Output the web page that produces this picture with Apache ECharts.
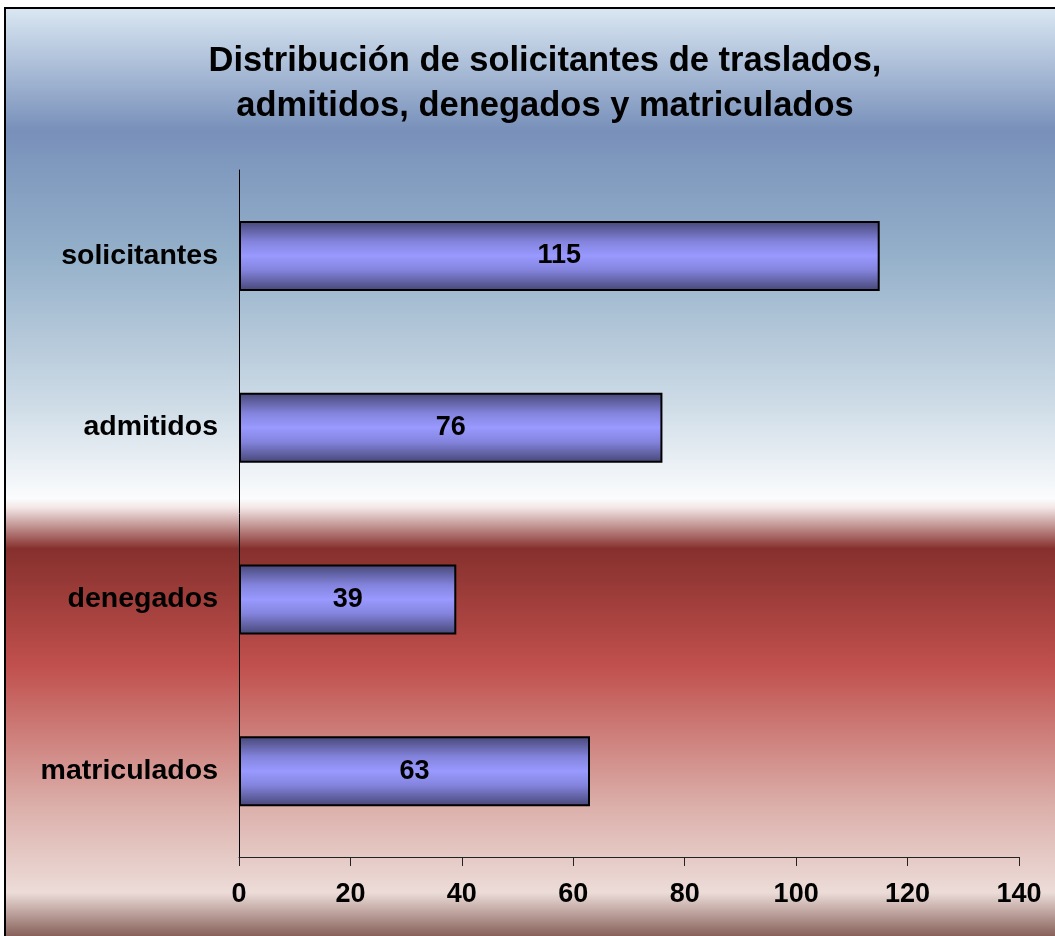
<!DOCTYPE html>
<html>
<head>
<meta charset="utf-8">
<script src="https://cdn.jsdelivr.net/npm/echarts@6/dist/echarts.min.js"></script>
<style>
  html, body { margin: 0; padding: 0; background: #fff; }
  #main { width: 1055px; height: 936px; }
</style>
</head>
<body>
<div id="main"></div>
<script>
// datos del gráfico
const categories = ["solicitantes", "admitidos", "denegados", "matriculados"];
const values = [115, 76, 39, 63];
const axisMax = 140;
const axisStep = 20;

const chart = echarts.init(document.getElementById("main"));

const font = '"Liberation Sans", Arial, sans-serif';

const option = {
  backgroundColor: "#ffffff",
  animation: false,
  title: {
    text: "Distribución de solicitantes de traslados,\nadmitidos, denegados y matriculados",
    left: 540,
    top: 34,
    textAlign: "center",
    textStyle: {
      fontFamily: font,
      fontWeight: "bold",
      fontSize: 34.5,
      lineHeight: 45,
      color: "#000",
    },
  },
  // fondo degradado tipo Excel
  graphic: [
    {
      type: "rect",
      z: -10,
      silent: true,
      shape: { x: 5, y: 8, width: 1060, height: 940 },
      style: {
        fill: {
          type: "linear",
          x: 0, y: 0, x2: 0, y2: 1,
          colorStops: [
            { offset: 0, color: "#dbe8f3" },
            { offset: 0.131, color: "#7890ba" },
            { offset: 0.26, color: "#93afc9" },
            { offset: 0.42, color: "#cddbe6" },
            { offset: 0.522, color: "#fbfcfd" },
            { offset: 0.531, color: "#f3e8e7" },
            { offset: 0.575, color: "#86302d" },
            { offset: 0.7, color: "#c0504d" },
            { offset: 0.85, color: "#dcb0ab" },
            { offset: 0.94, color: "#ecdcd8" },
            { offset: 1, color: "#6a3c35" },
          ],
        },
        stroke: "#000",
        lineWidth: 2,
      },
    },
  ],
  grid: {
    left: 239,
    right: 36,
    top: 170,
    bottom: 79,
  },
  xAxis: {
    type: "value",
    min: 0,
    max: axisMax,
    interval: axisStep,
    splitLine: { show: false },
    axisLine: { show: true, lineStyle: { color: "#222", width: 1 } },
    axisTick: { show: true, length: 9, lineStyle: { color: "#222" } },
    axisLabel: {
      margin: 24,
      fontFamily: font,
      fontWeight: "bold",
      fontSize: 27,
      color: "#000",
    },
  },
  yAxis: {
    type: "category",
    data: categories,
    inverse: true,
    axisLine: { show: true, lineStyle: { color: "#000", width: 1 } },
    axisTick: { show: false },
    axisLabel: {
      margin: 21,
      fontFamily: font,
      fontWeight: "bold",
      fontSize: 28.5,
      color: "#000",
    },
  },
  series: [
    {
      type: "bar",
      data: values,
      barWidth: 70,
      itemStyle: {
        borderColor: "#000",
        borderWidth: 2,
        color: {
          type: "linear",
          x: 0, y: 0, x2: 0, y2: 1,
          colorStops: [
            { offset: 0, color: "#464676" },
            { offset: 0.3, color: "#8484de" },
            { offset: 0.5, color: "#9999ff" },
            { offset: 0.7, color: "#8484de" },
            { offset: 1, color: "#464676" },
          ],
        },
      },
      label: {
        show: true,
        position: "inside",
        fontFamily: font,
        fontWeight: "bold",
        fontSize: 27,
        color: "#000",
      },
    },
  ],
};

chart.setOption(option);
</script>
</body>
</html>
